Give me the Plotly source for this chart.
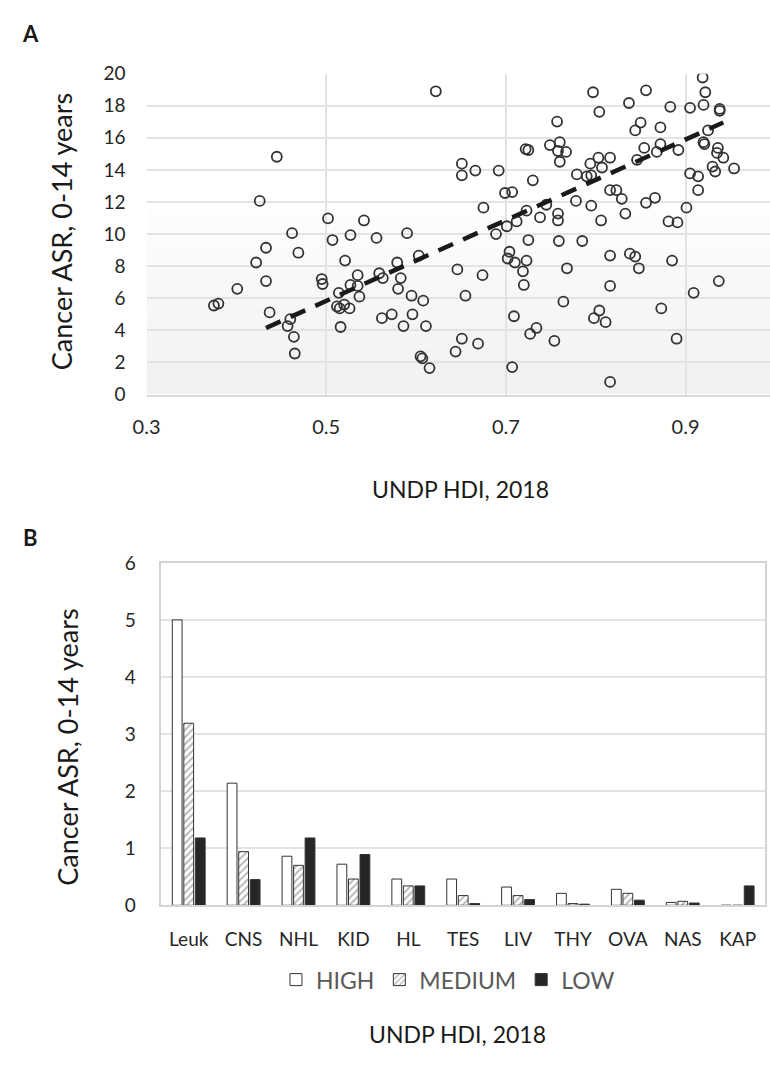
import numpy as np
import plotly.graph_objects as go

# ---------------- Panel A data (HDI vs ASR) ----------------
hdi = [0.375, 0.380, 0.401, 0.422, 0.426, 0.433, 0.433, 0.437, 0.445, 0.457,
       0.460, 0.462, 0.464, 0.465, 0.469, 0.495, 0.496, 0.502, 0.507, 0.512,
       0.514, 0.515, 0.516, 0.520, 0.521, 0.526, 0.527, 0.527, 0.535, 0.535,
       0.537, 0.542, 0.556, 0.559, 0.562, 0.563, 0.573, 0.579, 0.580, 0.583,
       0.586, 0.590, 0.595, 0.596, 0.603, 0.605, 0.607, 0.608, 0.611, 0.615,
       0.622, 0.644, 0.646, 0.651, 0.651, 0.651, 0.655, 0.666, 0.669, 0.674,
       0.675, 0.689, 0.692, 0.699, 0.701, 0.702, 0.704, 0.707, 0.707, 0.709,
       0.710, 0.712, 0.719, 0.720, 0.723, 0.723, 0.722, 0.725, 0.725, 0.727,
       0.730, 0.734, 0.738, 0.745, 0.749, 0.754, 0.757, 0.758, 0.758, 0.758,
       0.759, 0.760, 0.760, 0.764, 0.767, 0.768, 0.778, 0.779, 0.785, 0.790,
       0.794, 0.795, 0.795, 0.797, 0.798, 0.803, 0.804, 0.804, 0.806, 0.807,
       0.811, 0.816, 0.816, 0.816, 0.816, 0.816, 0.823, 0.829, 0.833, 0.837,
       0.838, 0.844, 0.844, 0.846, 0.848, 0.850, 0.854, 0.856, 0.856, 0.866,
       0.868, 0.872, 0.872, 0.873, 0.881, 0.883, 0.885, 0.890, 0.891, 0.892,
       0.901, 0.905, 0.905, 0.909, 0.914, 0.914, 0.919, 0.920, 0.920, 0.921,
       0.922, 0.925, 0.930, 0.933, 0.935, 0.936, 0.937, 0.938, 0.938, 0.942,
       0.954]
asr = [5.55, 5.67, 6.59, 8.23, 12.07, 9.15, 7.07, 5.12, 14.82, 4.27,
       4.70, 10.06, 3.60, 2.56, 8.84, 7.20, 6.89, 10.98, 9.63, 5.49,
       6.34, 5.37, 4.21, 5.61, 8.35, 5.37, 9.94, 6.83, 7.44, 6.77,
       6.10, 10.85, 9.76, 7.56, 4.76, 7.26, 5.00, 8.23, 6.59, 7.26,
       4.27, 10.06, 6.16, 5.00, 8.66, 2.38, 2.26, 5.85, 4.27, 1.65,
       18.90, 2.68, 7.80, 14.39, 13.66, 3.48, 6.16, 13.96, 3.17, 7.44,
       11.65, 10.00, 13.96, 12.56, 10.49, 8.48, 8.90, 12.62, 1.71, 4.88,
       8.23, 10.79, 7.68, 6.83, 11.46, 8.35, 15.30, 15.24, 9.63, 3.78,
       13.35, 4.15, 11.04, 11.83, 15.55, 3.35, 17.01, 15.18, 11.28, 10.85,
       9.57, 15.73, 14.51, 5.79, 15.12, 7.87, 12.07, 13.72, 9.57, 13.60,
       14.39, 13.66, 11.77, 18.84, 4.76, 14.76, 17.62, 5.24, 10.85, 14.15,
       4.51, 14.76, 12.74, 8.66, 6.77, 0.79, 12.74, 12.20, 11.28, 18.17,
       8.78, 16.46, 8.60, 14.63, 7.87, 16.95, 15.37, 18.96, 11.95, 12.26,
       15.12, 16.65, 15.61, 5.37, 10.79, 17.93, 8.35, 3.48, 10.73, 15.24,
       11.65, 17.87, 13.78, 6.34, 13.60, 12.74, 19.76, 18.05, 15.73, 15.61,
       18.84, 16.46, 14.21, 13.90, 15.06, 15.37, 7.07, 17.80, 17.68, 14.76,
       14.09]
# linear trendline as drawn in the source figure
trend_slope = 25.15
trend_intercept = -6.74
trend_hdi_span = [0.433, 0.942]
x_ticks_a = [0.3, 0.5, 0.7, 0.9]
y_ticks_a = list(range(0, 21, 2))

# ---------------- Panel B data (cancer types by HDI level) ----------------
cancer_types = ["Leuk", "CNS", "NHL", "KID", "HL", "TES", "LIV", "THY", "OVA", "NAS", "KAP"]
asr_high = [5.00, 2.14, 0.86, 0.72, 0.46, 0.46, 0.32, 0.21, 0.28, 0.05, 0.00]
asr_medium = [3.19, 0.94, 0.70, 0.46, 0.34, 0.17, 0.17, 0.03, 0.21, 0.07, 0.00]
asr_low = [1.18, 0.45, 1.18, 0.89, 0.34, 0.03, 0.10, 0.02, 0.09, 0.04, 0.34]
y_ticks_b = [0, 1, 2, 3, 4, 5, 6]

W, H = 770, 1066
FONT = "Lato"
fig = go.Figure()

# scatter
fig.add_trace(go.Scatter(
    x=hdi, y=asr, mode="markers", showlegend=False,
    marker=dict(symbol="circle-open", size=10, color="#333333", line=dict(width=1.8, color="#333333")),
    xaxis="x", yaxis="y"))

# trend line
tx = np.array(trend_hdi_span)
fig.add_trace(go.Scatter(
    x=tx, y=trend_slope * tx + trend_intercept, mode="lines", showlegend=False,
    line=dict(color="#1a1a1a", width=4.5, dash="16px,11px"),
    xaxis="x", yaxis="y"))

# bars
bar_line = dict(color="#333333", width=1)
fig.add_trace(go.Bar(x=cancer_types, y=asr_high, name="HIGH", xaxis="x2", yaxis="y2",
                     marker=dict(color="white", line=bar_line)))
fig.add_trace(go.Bar(x=cancer_types, y=asr_medium, name="MEDIUM", xaxis="x2", yaxis="y2",
                     marker=dict(color="white", line=bar_line,
                                 pattern=dict(shape="/", fgcolor="#6a6a6a", bgcolor="white",
                                              size=5, solidity=0.35))))
fig.add_trace(go.Bar(x=cancer_types, y=asr_low, name="LOW", xaxis="x2", yaxis="y2",
                     marker=dict(color="#262626", line=bar_line)))

# light gradient in lower part of scatter plot area
shapes = []
nb = 24
for i in range(nb):
    y0 = 12 * i / nb
    y1 = 12 * (i + 1) / nb
    g = int(241 + (254 - 241) * (i / (nb - 1)))
    shapes.append(dict(type="rect", xref="x", yref="y", x0=0.3, x1=1.0, y0=y0, y1=y1,
                       fillcolor=f"rgb({g},{g},{g})", line=dict(width=0), layer="below"))

def px(v):
    return v / W

def py(v):
    return 1 - v / H

tick_font = dict(family=FONT, size=19, color="#262626")

fig.update_layout(
    width=W, height=H, margin=dict(l=0, r=0, t=0, b=0),
    paper_bgcolor="white", plot_bgcolor="rgba(0,0,0,0)",
    font=dict(family=FONT, color="#262626"),
    shapes=shapes,
    barmode="group", bargap=0.37, bargroupgap=0.15,
    xaxis=dict(domain=[px(135), 1.0], range=[0.3, 0.994], anchor="y",
               tickmode="array", tickvals=x_ticks_a, ticktext=[f"{v:.1f}" for v in x_ticks_a],
               showgrid=True, gridcolor="#e3e3e3", gridwidth=1.5, zeroline=False,
               showline=True, linecolor="#d9d9d9", linewidth=1.5, ticks="",
               ticklabelstandoff=14, tickfont=dict(family=FONT, size=20, color="#262626")),
    yaxis=dict(domain=[py(391), py(63)], range=[0, 20], anchor="x",
               tickmode="array", tickvals=y_ticks_a, ticktext=[str(v) for v in y_ticks_a],
               showgrid=True, gridcolor="#e3e3e3", gridwidth=1.5, zeroline=False,
               showline=False, ticks="", ticklabelstandoff=20, tickfont=tick_font),
    xaxis2=dict(domain=[px(150), px(765)], anchor="y2",
                showgrid=False, zeroline=False, showline=True, mirror=True,
                linecolor="#d4d4d4", linewidth=1.5, ticks="",
                ticklabelstandoff=16, tickfont=tick_font),
    yaxis2=dict(domain=[py(913), py(563)], range=[0, 6], anchor="x2",
                tickmode="array", tickvals=y_ticks_b, ticktext=[str(v) for v in y_ticks_b],
                showgrid=True, gridcolor="#e3e3e3", gridwidth=1.5, zeroline=False,
                showline=True, mirror=True, linecolor="#d4d4d4", linewidth=1.5, ticks="",
                ticklabelstandoff=20, tickfont=tick_font),
    legend=dict(orientation="h", x=px(442), xanchor="center", y=py(989), yanchor="middle",
                font=dict(family=FONT, size=23, color="#595959"), itemwidth=30,
                traceorder="normal", bgcolor="rgba(0,0,0,0)"),
)

def ann(text, x, y, size, angle=0, bold=False):
    return dict(text=f"<b>{text}</b>" if bold else text, x=px(x), y=py(y),
                xref="paper", yref="paper", xanchor="center", yanchor="middle",
                showarrow=False, textangle=angle,
                font=dict(family=FONT, size=size, color="#1a1a1a"))

annotations = [
    ann("A", 17, 22, 22, bold=True),
    ann("B", 17, 537, 22, bold=True),
    ann("Cancer ASR, 0-14 years", 48, 225, 27, angle=-90),
    ann("Cancer ASR, 0-14 years", 55, 752, 27, angle=-90),
    ann("UNDP HDI, 2018", 455, 488, 23),
    ann("UNDP HDI, 2018", 452, 1045, 23),
]
fig.update_layout(annotations=annotations)

fig.write_html("out.html")
